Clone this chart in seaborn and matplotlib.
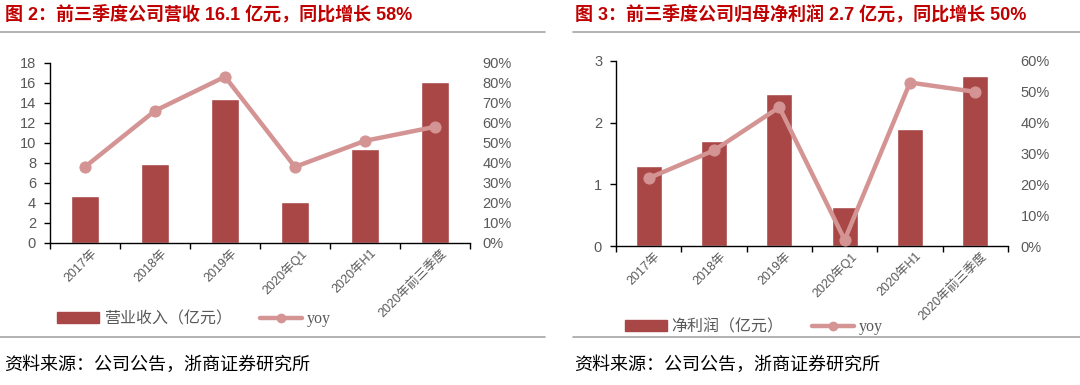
import numpy as np
import pandas as pd
import matplotlib
matplotlib.use("Agg")
import matplotlib.pyplot as plt
import matplotlib.transforms as mtrans
from matplotlib.lines import Line2D
from matplotlib.patches import Patch
import seaborn as sns

sns.set_theme(style="white")
plt.rcParams['font.family'] = ['Liberation Sans', 'Noto Sans CJK SC', 'DejaVu Sans']

categories = ["2017年", "2018年", "2019年", "2020年Q1", "2020年H1", "2020年前三季度"]
revenue = [4.7, 7.9, 14.4, 4.1, 9.4, 16.1]
revenue_yoy = [38, 66, 83, 38, 51, 58]
profit = [1.30, 1.70, 2.47, 0.63, 1.89, 2.75]
profit_yoy = [22, 31, 45, 2, 53, 50]

title_left = "图 2：前三季度公司营收 16.1 亿元，同比增长 58%"
title_right = "图 3：前三季度公司归母净利润 2.7 亿元，同比增长 50%"
source = "资料来源：公司公告，浙商证券研究所"

BAR = "#A94646"
LINE = "#D49494"
GRAY = "#595959"
TITLE = "#C00000"

fig = plt.figure(figsize=(10.8, 3.85), dpi=100)

def panel(rect, vals, yoy, ymax, ystep, pmax, pstep, bar_label, leg_xy):
    ax = fig.add_axes(rect)
    df = pd.DataFrame({"cat": categories, "val": vals})
    sns.barplot(data=df, x="cat", y="val", color=BAR, width=0.4, saturation=1,
                ax=ax, order=categories)
    ax.set_xlim(-0.5, len(categories) - 0.5)
    ax.set_ylim(0, ymax)
    ax.set_yticks(np.arange(0, ymax + 0.001, ystep))
    ax.set_xlabel("")
    ax.set_ylabel("")
    for s in ["top", "right"]:
        ax.spines[s].set_visible(False)
    for s in ["left", "bottom"]:
        ax.spines[s].set_color("black")
        ax.spines[s].set_linewidth(1.0)
    ax.tick_params(axis="y", left=True, length=4, width=1, color="black",
                   labelsize=10.5, labelcolor=GRAY, pad=6)
    ax.set_xticks(np.arange(-0.5, len(categories)), minor=True)
    ax.tick_params(axis="x", which="minor", bottom=True, length=4, width=1, color="black")
    ax.tick_params(axis="x", which="major", bottom=False, length=0, labelsize=9,
                   labelcolor=GRAY, pad=3)
    ax.set_xticks(np.arange(len(categories)))
    ax.set_xticklabels(categories, rotation=45, ha="right", rotation_mode="anchor")
    off = mtrans.ScaledTranslation(4 / 72, 0, fig.dpi_scale_trans)
    for lab in ax.get_xticklabels():
        lab.set_transform(lab.get_transform() + off)

    ax2 = ax.twinx()
    sns.lineplot(x=np.arange(len(categories)), y=yoy, ax=ax2, color=LINE,
                 linewidth=3.2, marker="o", markersize=8, markeredgecolor=LINE,
                 markerfacecolor=LINE)
    ax2.set_ylim(0, pmax)
    ax2.set_yticks(np.arange(0, pmax + 0.001, pstep))
    ax2.set_yticklabels([f"{int(v)}%" for v in np.arange(0, pmax + 0.001, pstep)])
    for s in ["top", "right", "left", "bottom"]:
        ax2.spines[s].set_visible(False)
    ax2.tick_params(axis="y", right=False, length=0, labelsize=10.5, labelcolor=GRAY, pad=9)
    ax2.grid(False)
    ax.grid(False)

    handles = [Patch(facecolor=BAR, edgecolor=BAR),
               Line2D([0], [0], color=LINE, linewidth=3.2, marker="o", markersize=6)]
    leg = fig.legend(handles, [bar_label, "yoy"], loc="center",
                     bbox_to_anchor=leg_xy, bbox_transform=fig.transFigure,
                     ncol=2, frameon=False, fontsize=11.5, handlelength=2.6,
                     handleheight=0.6, handletextpad=0.3, columnspacing=1.8)
    for t in leg.get_texts():
        t.set_color(GRAY)
    leg.get_texts()[1].set_fontfamily(["Liberation Serif", "DejaVu Serif"])
    return ax

panel([50 / 1080, 1 - 243 / 385, 420 / 1080, 180.3 / 385], revenue, revenue_yoy,
      18, 2, 90, 10, "营业收入（亿元）", (194 / 1080, 1 - 319 / 385))
panel([616 / 1080, 1 - 246 / 385, 392 / 1080, 185 / 385], profit, profit_yoy,
      3, 1, 60, 10, "净利润（亿元）", (754 / 1080, 1 - 327 / 385))

# titles
fig.text(5 / 1080, 1 - 14 / 385, title_left, fontsize=13, fontweight="bold",
         color=TITLE, va="center", ha="left")
fig.text(575 / 1080, 1 - 14 / 385, title_right, fontsize=13, fontweight="bold",
         color=TITLE, va="center", ha="left")

# separator lines
for (x0, x1) in [(0, 545), (573, 1080)]:
    for y in [32, 337]:
        fig.add_artist(Line2D([x0 / 1080, x1 / 1080], [1 - y / 385, 1 - y / 385],
                              color="#A6A6A6", linewidth=1.2, transform=fig.transFigure))

fig.text(4 / 1080, 1 - 365 / 385, source, fontsize=13, color="black",
         va="center", ha="left")
fig.text(574 / 1080, 1 - 365 / 385, source, fontsize=13, color="black",
         va="center", ha="left")

fig.savefig("out.png", dpi=100)
